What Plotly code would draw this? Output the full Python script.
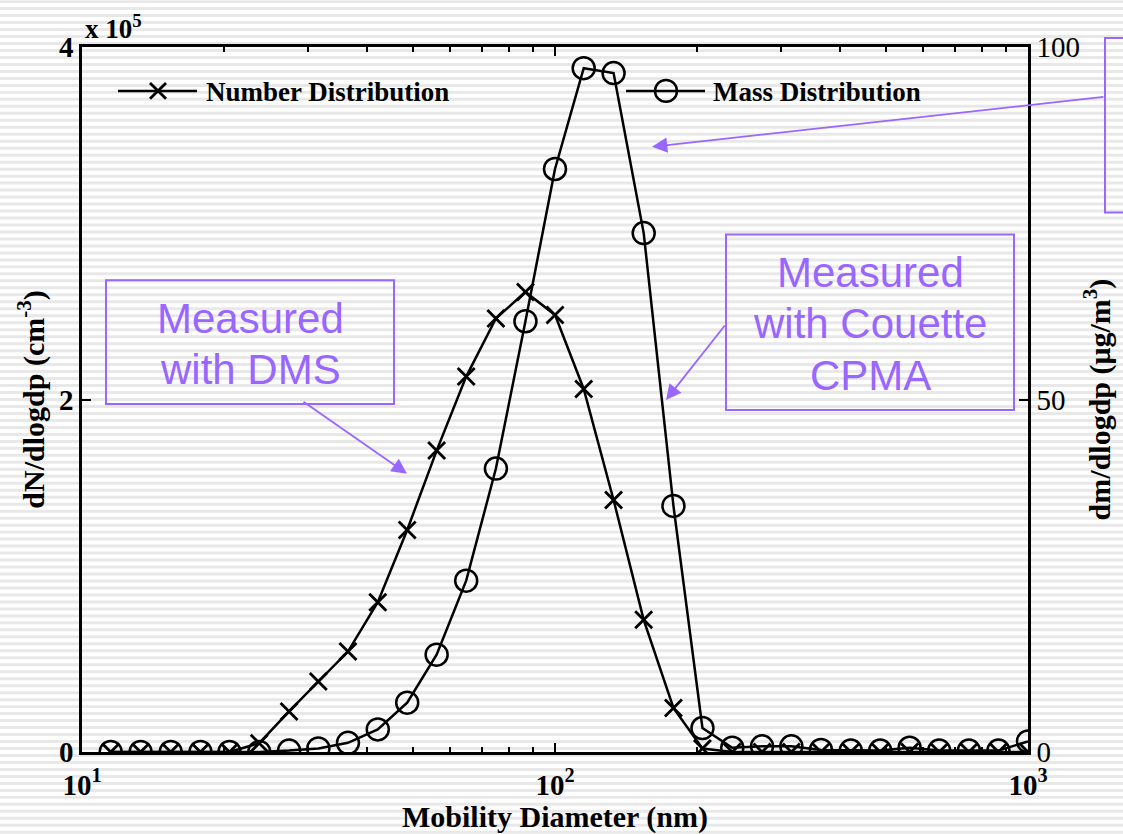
import plotly.graph_objects as go

# ---------------- data ----------------
diameter_nm = [11.5, 13.3, 15.4, 17.8, 20.5, 23.7, 27.4, 31.6, 36.5, 42.2, 48.7, 56.2,
               64.9, 75.0, 86.6, 100, 115, 133, 154, 178, 205, 237, 274, 316, 365,
               422, 487, 562, 649, 750, 866, 1000]
number_dist = [0, 0, 0, 0, 0, 0.05e5, 0.23e5, 0.40e5, 0.57e5, 0.85e5, 1.26e5, 1.71e5,
               2.13e5, 2.46e5, 2.61e5, 2.48e5, 2.06e5, 1.43e5, 0.75e5, 0.25e5, 0.02e5,
               0, 0, 0, 0, 0, 0, 0, 0, 0, 0, 0]
mass_dist = [0, 0, 0, 0, 0, 0, 0.2, 0.5, 1.3, 3.2, 7.0, 13.8, 24.3, 40.2, 61.1, 82.7,
             97.0, 96.3, 73.6, 34.9, 3.4, 0.6, 0.8, 0.8, 0.3, 0.2, 0.2, 0.6, 0.2, 0.2,
             0.2, 1.5]
x_tickvals = [10, 100, 1000]
x_ticktext = ["10<sup>1</sup>", "10<sup>2</sup>", "10<sup>3</sup>"]
x_minor = [20, 30, 40, 50, 60, 70, 80, 90, 200, 300, 400, 500, 600, 700, 800, 900]
y1_tickvals = [0, 2e5, 4e5]
y1_ticktext = ["0", "2", "4"]
y2_tickvals = [0, 50, 100]
y2_ticktext = ["0", "50", "100"]

# ---------------- layout geometry ----------------
W, H = 1123, 834
L, R, T, B = 82, 1028, 47, 754
PW, PH = R - L, B - T
PURPLE = "#9966FF"
SERIF = "Liberation Serif"


def px(x):
    return (x - L) / PW


def py(y):
    return (B - y) / PH


fig = go.Figure()
fig.add_trace(go.Scatter(
    x=diameter_nm, y=number_dist, mode="lines+markers", name="Number Distribution",
    line=dict(color="black", width=2.5),
    marker=dict(symbol="x-thin-open", size=17, color="black",
                line=dict(color="black", width=2.8)),
    showlegend=False))
fig.add_trace(go.Scatter(
    x=diameter_nm, y=mass_dist, mode="lines+markers", name="Mass Distribution",
    yaxis="y2",
    line=dict(color="black", width=2.5),
    marker=dict(symbol="circle-open", size=22, color="black",
                line=dict(color="black", width=2.5)),
    showlegend=False))

shapes = []
# striped background
period, band = 7, 3
y = 0
while y < H:
    shapes.append(dict(type="rect", xref="paper", yref="paper",
                       x0=px(0), x1=px(W), y0=py(y), y1=py(y + band),
                       fillcolor="#e8e8e8", line=dict(width=0), layer="below"))
    y += period

# annotation boxes
for (x0, y0, x1, y1) in [(106, 281, 394, 405), (726, 235, 1014, 411), (1105, 38, 1140, 213)]:
    shapes.append(dict(type="rect", xref="paper", yref="paper",
                       x0=px(x0), x1=px(x1), y0=py(y0), y1=py(y1),
                       line=dict(color=PURPLE, width=2), fillcolor="rgba(0,0,0,0)"))

# legend glyphs
for (xa, xb) in [(118, 197), (626, 705)]:
    shapes.append(dict(type="line", xref="paper", yref="paper",
                       x0=px(xa), x1=px(xb), y0=py(91), y1=py(91),
                       line=dict(color="black", width=2.5)))
for d in (1, -1):
    shapes.append(dict(type="line", xref="paper", yref="paper",
                       x0=px(158 - 8), x1=px(158 + 8), y0=py(91 - 8 * d), y1=py(91 + 8 * d),
                       line=dict(color="black", width=2.8)))
shapes.append(dict(type="circle", xref="paper", yref="paper",
                   x0=px(666 - 11), x1=px(666 + 11), y0=py(91 - 11), y1=py(91 + 11),
                   line=dict(color="black", width=2.5), fillcolor="rgba(0,0,0,0)"))

legend_font = dict(family=SERIF, size=27, color="black", weight="bold")
box_font = dict(family="Liberation Sans", size=42, color=PURPLE)
annotations = [
    dict(text="Number Distribution", x=px(204), y=py(92), xref="paper", yref="paper",
         xanchor="left", yanchor="middle", showarrow=False, font=legend_font),
    dict(text="Mass Distribution", x=px(711), y=py(92), xref="paper", yref="paper",
         xanchor="left", yanchor="middle", showarrow=False, font=legend_font),
    dict(text="x 10<sup>5</sup>", x=px(83), y=py(46), xref="paper", yref="paper",
         xanchor="left", yanchor="bottom", showarrow=False, font=legend_font),
]
for (txt, cx, cy) in [("Measured", 250, 319), ("with DMS", 250, 370),
                      ("Measured", 870, 273), ("with Couette", 870, 324), ("CPMA", 870, 376)]:
    annotations.append(dict(text=txt, x=px(cx), y=py(cy), xref="paper", yref="paper",
                            xanchor="center", yanchor="middle", showarrow=False,
                            font=box_font))
for (tx, ty, hx, hy) in [(302, 402, 407, 475), (726, 325, 666, 401), (1105, 97, 652, 147)]:
    annotations.append(dict(text="", x=px(hx), y=py(hy), xref="paper", yref="paper",
                            ax=tx - hx, ay=ty - hy, showarrow=True, arrowhead=2,
                            arrowsize=1.7, arrowwidth=1.8, arrowcolor=PURPLE,
                            standoff=0, startstandoff=0))

tickfont = dict(family=SERIF, size=29, color="black", weight="bold")
titlefont = dict(family=SERIF, size=30, color="black", weight="bold")

fig.update_layout(
    width=W, height=H,
    margin=dict(l=L, r=W - R, t=T, b=H - B),
    paper_bgcolor="white", plot_bgcolor="rgba(0,0,0,0)",
    shapes=shapes, annotations=annotations,
    xaxis=dict(type="log", range=[1, 3], tickvals=x_tickvals, ticktext=x_ticktext,
               ticks="inside", ticklen=9, tickwidth=2, tickcolor="black",
               showline=True, linecolor="black", linewidth=2.5, mirror="ticks",
               showgrid=False, zeroline=False, tickfont=tickfont, ticklabelstandoff=5,
               minor=dict(tickvals=x_minor, ticks="inside", ticklen=5, tickwidth=2,
                          tickcolor="black", showgrid=False),
               title=dict(text="Mobility Diameter (nm)", font=titlefont, standoff=0)),
    yaxis=dict(range=[0, 4e5], tickvals=y1_tickvals, ticktext=y1_ticktext,
               ticks="inside", ticklen=9, tickwidth=2, tickcolor="black",
               showline=True, linecolor="black", linewidth=2.5, mirror=False,
               showgrid=False, zeroline=False, tickfont=tickfont,
               title=dict(text="dN/dlogdp (cm<sup>-3</sup>)", font=titlefont, standoff=6)),
    yaxis2=dict(range=[0, 100], tickvals=y2_tickvals, ticktext=y2_ticktext,
                overlaying="y", side="right",
                ticks="inside", ticklen=9, tickwidth=2, tickcolor="black",
                showline=True, linecolor="black", linewidth=2.5,
                showgrid=False, zeroline=False,
                tickfont=dict(family=SERIF, size=29, color="black"),
                title=dict(text="dm/dlogdp (μg/m<sup>3</sup>)", font=titlefont, standoff=10)),
)

fig.write_html("out.html", config={"displayModeBar": False},
               post_script="document.body.style.margin='0';")
